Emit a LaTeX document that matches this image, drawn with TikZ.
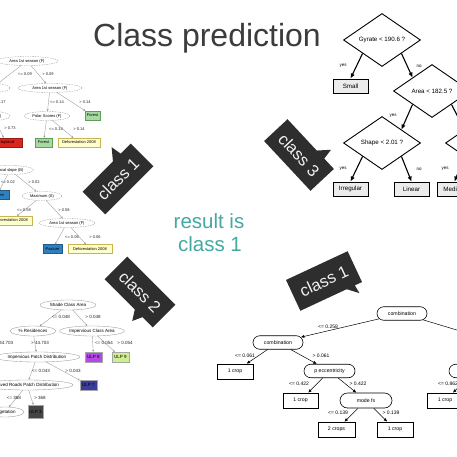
\documentclass[tikz,border=0pt]{standalone}
\usepackage{fontspec}
\setmainfont{Liberation Sans}
\usetikzlibrary{shapes.geometric,shapes.misc,arrows.meta,calc}
\definecolor{bubblec}{HTML}{2E2E2E}
\definecolor{tealc}{HTML}{45A9A1}
\definecolor{titlec}{HTML}{3C3C3C}
\definecolor{forestc}{HTML}{A9D9A2}
\definecolor{forestd}{HTML}{5E9E58}
\definecolor{yellowc}{HTML}{FFFFCC}
\definecolor{yellowd}{HTML}{C9B452}
\definecolor{bluec}{HTML}{2F80BF}
\definecolor{redc}{HTML}{D9261E}
\definecolor{violetc}{HTML}{B548E8}
\definecolor{limec}{HTML}{CFEE8E}
\definecolor{navyc}{HTML}{3C3C9C}
\definecolor{darkc}{HTML}{444444}
\tikzset{
  tlfont/.style={font=\fontsize{4}{4.5}\selectfont},
  tlell/.style={tlfont, ellipse, draw=gray!80, dash pattern=on 1.5pt off 1pt, line width=0.35pt, fill=white, minimum height=9, inner sep=0.3pt},
  tlbox/.style={tlfont, rectangle, line width=0.35pt, minimum height=9, inner sep=0.5pt},
  tledge/.style={draw=gray!80, line width=0.35pt, -{Stealth[length=2.2pt,width=2pt]}},
  tllbl/.style={tlfont, inner sep=0pt, text=black!85},
  blfont/.style={font=\fontsize{4.5}{5}\selectfont},
  blell/.style={blfont, ellipse, draw=gray!80, line width=0.35pt, fill=white, minimum height=10, inner sep=0.3pt},
  blbox/.style={blfont, rectangle, draw=gray!70, line width=0.35pt, minimum height=10, inner sep=0.5pt},
  bllbl/.style={blfont, inner sep=0pt, text=black!85},
  trfont/.style={font=\fontsize{6.2}{7}\selectfont},
  trdia/.style={trfont, diamond, draw=black, line width=0.9pt, fill=white, inner sep=0pt, minimum width=77, minimum height=53},
  trbox/.style={trfont, rectangle, draw=black, line width=0.9pt, fill=gray!15, minimum width=35, minimum height=14, inner sep=0pt},
  tredge/.style={draw=black, line width=1.1pt, -{Latex[length=5pt,width=4.5pt]}},
  trlbl/.style={font=\fontsize{4.5}{5}\selectfont, inner sep=0pt},
  brfont/.style={font=\fontsize{5.2}{6}\selectfont},
  brround/.style={brfont, rounded rectangle, draw=black, line width=0.6pt, fill=white, minimum width=50, minimum height=13.5, inner sep=0pt},
  brbox/.style={brfont, rectangle, draw=black, line width=0.6pt, fill=white, minimum width=36, minimum height=15, inner sep=0pt},
  bredge/.style={draw=black, line width=0.5pt, -{Latex[length=3.5pt,width=3pt]}},
  brlbl/.style={font=\fontsize{5}{6}\selectfont, inner sep=0pt},
  btext/.style={font=\fontsize{16.5}{18}\selectfont, text=white!95!black, inner sep=0pt},
}
\begin{document}
\begin{tikzpicture}[x=1pt,y=-1pt]
\useasboundingbox (0,0) rectangle (457,457);
\fill[white] (0,0) rectangle (457,457);
\clip (0,0) rectangle (457,457);

% ---------- title and result ----------
\node[font=\fontsize{32}{36}\selectfont, text=titlec, anchor=base, inner sep=0pt] (title) at (207,47) {Class prediction};
\node[font=\fontsize{20.5}{24}\selectfont, text=tealc, anchor=base, inner sep=0pt] (res1) at (209,228) {result is};
\node[font=\fontsize{20.5}{24}\selectfont, text=tealc, anchor=base, inner sep=0pt] (res2) at (210,251) {class 1};

% ---------- top-left tree ----------
\node[tlell, minimum width=62] (a1) at (27,61) {Area 1st season (F)};
\node[tlell, minimum width=36] (a2) at (-8,88) {Slope (I)};
\node[tlell, minimum width=64] (a3) at (50,88) {Area 1st season (F)};
\node[tlell, minimum width=34] (a4) at (-7,116) {Slope (B)};
\node[tlell, minimum width=46] (a5) at (47,116) {Polar Scores (F)};
\node[tlbox, fill=forestc, draw=forestd, minimum width=15] (a6) at (92.5,115.5) {Forest};
\node[tlbox, fill=redc, draw=redc!70!black, minimum width=32] (a7) at (6,142.5) {Cropland};
\node[tlbox, fill=forestc, draw=forestd, minimum width=17] (a8) at (43.5,142.5) {Forest};
\node[tlbox, fill=yellowc, draw=yellowd, minimum width=42] (a9) at (79,142.5) {Deforestation 2008};
\draw[tledge] (a1) -- (a2);
\draw[tledge] (a1) -- (a3);
\draw[tledge] (a2) -- (a4);
\draw[tledge] (a3) -- (a5);
\draw[tledge] (a3) -- (a6);
\draw[tledge] (a4) -- (a7);
\draw[tledge] (a5) -- (a8);
\draw[tledge] (a5) -- (a9);
\node[tllbl] (la1) at (25,74) {<= 0.09};
\node[tllbl] (la2) at (48,74) {> 0.09};
\node[tllbl] (la3) at (0,102) {> 0.17};
\node[tllbl] (la4) at (57,102) {<= 0.14};
\node[tllbl] (la5) at (85,102) {> 0.14};
\node[tllbl] (la6) at (10,128) {> 0.73};
\node[tllbl] (la7) at (56,129) {<= 0.14};
\node[tllbl] (la8) at (79,129) {> 0.14};

\node[tlell, minimum width=47] (b1) at (10,170) {Local slope (B)};
\node[tlbox, fill=bluec, draw=bluec!70!black, minimum width=24] (b2) at (-3,195) {Pasture};
\node[tlell, minimum width=40] (b3) at (42,196) {Maximum (S)};
\node[tlbox, fill=yellowc, draw=yellowd, minimum width=42] (b4) at (11,220.5) {Deforestation 2008};
\node[tlell, minimum width=56] (b5) at (67,223) {Area 1st season (F)};
\node[tlbox, fill=bluec, draw=bluec!70!black, minimum width=19] (b6) at (52.5,249) {Pasture};
\node[tlbox, fill=yellowc, draw=yellowd, minimum width=44] (b7) at (90,249) {Deforestation 2008};
\draw[tledge] (b1) -- (b2);
\draw[tledge] (b1) -- (b3);
\draw[tledge] (b3) -- (b4);
\draw[tledge] (b3) -- (b5);
\draw[tledge] (b5) -- (b6);
\draw[tledge] (b5) -- (b7);
\node[tllbl] (lb1) at (8,182) {<= 0.02};
\node[tllbl] (lb2) at (34,182) {> 0.02};
\node[tllbl] (lb3) at (24,210) {<= 0.58};
\node[tllbl] (lb4) at (64,210) {> 0.58};
\node[tllbl] (lb5) at (72,237) {<= 0.06};
\node[tllbl] (lb6) at (95,237) {> 0.06};

% ---------- bottom-left tree ----------
\node[blell, minimum width=56] (c1) at (68,305) {Shade Class Area};
\node[blell, minimum width=46] (c2) at (33,331) {\% Residences};
\node[blell, minimum width=64] (c3) at (92,331) {Impervious Class Area};
\node[blell, minimum width=86] (c4) at (37,357) {Impervious Patch Distribution};
\node[blbox, fill=violetc, minimum width=17] (c5) at (93.5,357) {ULP 8};
\node[blbox, fill=limec, minimum width=17] (c6) at (120.5,357) {ULP 9};
\node[blell, minimum width=92] (c7) at (27,385) {Paved Roads Patch Distribution};
\node[blbox, fill=navyc, minimum width=17] (c8) at (88.5,385) {ULP 7};
\node[blell, minimum width=38] (c9) at (5,412) {Vegetation};
\node[blbox, fill=darkc, minimum width=15, minimum height=13] (c10) at (35.5,411.5) {ULP 3};
\draw[tledge] (c1) -- (c2);
\draw[tledge] (c1) -- (c3);
\draw[tledge] (c2) -- (c4);
\draw[tledge] (c3) -- (c5);
\draw[tledge] (c3) -- (c6);
\draw[tledge] (c4) -- (c7);
\draw[tledge] (c4) -- (c8);
\draw[tledge] (c7) -- (c9);
\draw[tledge] (c7) -- (c10);
\node[bllbl] (lc1) at (61,317) {<= 0.048};
\node[bllbl] (lc2) at (93,317) {> 0.048};
\node[bllbl] (lc3) at (3,343) {<= 44.703};
\node[bllbl] (lc4) at (40,343) {> 44.703};
\node[bllbl] (lc5) at (104,343) {<= 0.054};
\node[bllbl] (lc6) at (125,343) {> 0.054};
\node[bllbl] (lc7) at (41,371) {<= 0.043};
\node[bllbl] (lc8) at (73,371) {> 0.043};
\node[bllbl] (lc9) at (14,398) {<= 368};
\node[bllbl] (lc10) at (40,398) {> 368};

% ---------- top-right tree ----------
\node[trdia] (d1) at (382,40) {Gyrate < 190.6 ?};
\node[trdia] (d2) at (432,91) {Area < 182.5 ?};
\node[trdia] (d3) at (382,143) {Shape < 2.01 ?};
\node[trdia] (d4) at (484,143) {};
\node[trbox] (s1) at (350.5,86) {Small};
\node[trbox] (s2) at (350.5,189) {Irregular};
\node[trbox] (s3) at (411.5,189) {Linear};
\node[trbox] (s4) at (454.5,189) {Medium};
\draw[tredge] (d1.south west) -- (s1.north);
\draw[tredge] (d1.south east) -- (d2.north west);
\draw[tredge] (d2.south west) -- (d3.north east);
\draw[tredge] (d2.south east) -- (d4.north west);
\draw[tredge] (d3.south west) -- (s2.north);
\draw[tredge] (d3.south east) -- (s3.north);
\draw[tredge] (d4.south west) -- (s4.north);
\node[trlbl] (ly1) at (343,66) {yes};
\node[trlbl] (ln1) at (419,66) {no};
\node[trlbl] (ly2) at (393,116) {yes};
\node[trlbl] (ly3) at (343,169) {yes};
\node[trlbl] (ln3) at (419,169) {no};
\node[trlbl] (ly4) at (445,169) {yes};

% ---------- bottom-right tree ----------
\node[brround] (e1) at (402,313.5) {combination};
\node[brround] (e2) at (278,342.5) {combination};
\node[brbox] (e3) at (235,371.5) {1 crop};
\node[brround, minimum width=51] (e4) at (329.5,371) {p eccentricity};
\node[brbox, minimum width=35] (e5) at (300.5,400.5) {1 crop};
\node[brround, minimum width=52, minimum height=15] (e6) at (366,400.5) {mode fs};
\node[brbox, minimum width=37] (e7) at (336.5,429.5) {2 crops};
\node[brbox] (e8) at (395,429.5) {1 crop};
\node[brround, minimum width=52] (e9) at (475,371) {};
\node[brbox] (e10) at (445,400.5) {1 crop};
\coordinate (eoff) at (490,340);
\draw[bredge] (e1) -- (e2);
\draw[draw=black, line width=0.5pt] (e1) -- (eoff);
\draw[bredge] (e2) -- (e3);
\draw[bredge] (e2) -- (e4);
\draw[bredge] (e4) -- (e5);
\draw[bredge] (e4) -- (e6);
\draw[bredge] (e6) -- (e7);
\draw[bredge] (e6) -- (e8);
\draw[bredge] (e9) -- (e10);
\node[brlbl] (le1) at (328,327) {<= 0.258};
\node[brlbl] (le2) at (245,356) {<= 0.061};
\node[brlbl] (le3) at (321,356) {> 0.061};
\node[brlbl] (le4) at (299,384) {<= 0.422};
\node[brlbl] (le5) at (358,384) {> 0.422};
\node[brlbl] (le6) at (338,413) {<= 0.139};
\node[brlbl] (le7) at (391,413) {> 0.139};
\node[brlbl] (le8) at (448,384) {<= 0.862};

% ---------- speech bubbles ----------
\begin{scope}[shift={(118,179)}, rotate=45, x=1pt, y=1pt]
  \fill[bubblec] (-34,-16) rectangle (34,16);
  \fill[bubblec] (8,15) -- (18,27) -- (20,15) -- cycle;
  \node[btext, transform shape] (bub1) at (0,0) {class 1};
\end{scope}
\begin{scope}[shift={(140,292)}, rotate=-45, x=1pt, y=1pt]
  \fill[bubblec] (-34,-16) rectangle (34,16);
  \fill[bubblec] (8,-15) -- (15,-26) -- (20,-15) -- cycle;
  \node[btext, transform shape] (bub2) at (0,0) {class 2};
\end{scope}
\begin{scope}[shift={(299,155)}, rotate=-47, x=1pt, y=1pt]
  \fill[bubblec] (-34,-16) rectangle (34,16);
  \fill[bubblec] (8,15) -- (18,27) -- (20,15) -- cycle;
  \node[btext, transform shape] (bub3) at (0,0) {class 3};
\end{scope}
\begin{scope}[shift={(324,281)}, rotate=25, x=1pt, y=1pt]
  \fill[bubblec] (-34,-17) rectangle (34,17);
  \fill[bubblec] (16,-16) -- (27,-26) -- (26,-16) -- cycle;
  \node[btext, transform shape] (bub4) at (0,0) {class 1};
\end{scope}
\end{tikzpicture}
\end{document}
